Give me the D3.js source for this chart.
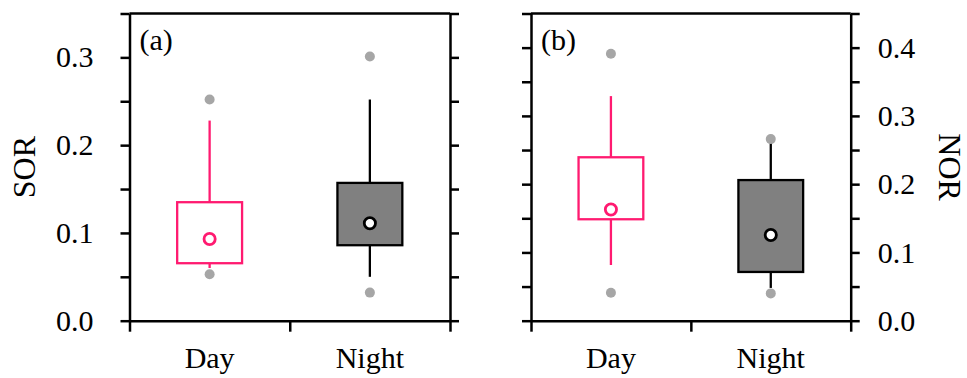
<!DOCTYPE html>
<html>
<head>
<meta charset="utf-8">
<script src="https://cdn.jsdelivr.net/npm/d3@7"></script>
<style>
  body { margin: 0; background: #fff; }
  text { font-family: "Liberation Serif", "Times New Roman", serif; fill: #000; }
</style>
</head>
<body>
<svg id="drawing_region"></svg>
<script>
// categories
var categories = ['Day', 'Night'];

// panel (a) SOR
var sorQ1 = [0.0655, 0.086];
var sorQ3 = [0.135, 0.157];
var sorLow = [0.060, 0.050];
var sorHigh = [0.228, 0.252];
var sorMean = [0.093, 0.111];
var sorOut = [[0.053, 0.252], [0.032, 0.301]];

// panel (b) NOR
var norQ1 = [0.1486, 0.0714];
var norQ3 = [0.2394, 0.206];
var norLow = [0.0816, 0.048];
var norHigh = [0.329, 0.262];
var norMean = [0.163, 0.1256];
var norOut = [[0.041, 0.391], [0.040, 0.266]];

var sorTicks = [0, 0.05, 0.1, 0.15, 0.2, 0.25, 0.3, 0.35];
var norTicks = [0, 0.05, 0.1, 0.15, 0.2, 0.25, 0.3, 0.35, 0.4, 0.45];

var pink = '#ff1a70';
var boxFill = ['#ffffff', '#808080'];
var boxStroke = [pink, '#000000'];

var svg = d3.select('#drawing_region')
    .attr('width', 967)
    .attr('height', 378);

var top_ = 13.5, bottom = 320.7;

function isMajor(d) {
    return Math.abs(d * 10 - Math.round(d * 10)) < 1e-6;
}

function panel(opt) {
    var g = svg.append('g');

    var xScale = d3.scaleBand()
        .domain(categories)
        .range([opt.left, opt.right])
        .paddingInner(0)
        .paddingOuter(0);

    var xEdge = d3.scaleLinear().domain([0, 2]).range([opt.left, opt.right]);

    var yScale = d3.scaleLinear()
        .domain([0, opt.ymax])
        .range([bottom, top_]);

    var fmt = d3.format('.1f');

    // left axis
    var la = g.append('g')
        .attr('transform', 'translate(' + opt.left + ',0)')
        .call(d3.axisLeft(yScale).tickValues(opt.ticks).tickSize(9).tickSizeOuter(0)
            .tickPadding(opt.labelLeft ? 27 : 3)
            .tickFormat(d => (opt.labelLeft && isMajor(d)) ? fmt(d) : ''));

    // right axis
    var ra = g.append('g')
        .attr('transform', 'translate(' + opt.right + ',0)')
        .call(d3.axisRight(yScale).tickValues(opt.ticks).tickSize(9).tickSizeOuter(0)
            .tickPadding(18)
            .tickFormat(d => (!opt.labelLeft && isMajor(d)) ? fmt(d) : ''));

    // bottom axis (boundary ticks)
    var ba = g.append('g')
        .attr('transform', 'translate(0,' + bottom + ')')
        .call(d3.axisBottom(xEdge).tickValues([0, 1, 2]).tickSize(11).tickSizeOuter(0)
            .tickFormat(''));

    // top border
    g.append('line')
        .attr('x1', opt.left).attr('x2', opt.right)
        .attr('y1', top_).attr('y2', top_)
        .attr('stroke', '#000').attr('stroke-width', 2.5);

    [la, ra, ba].forEach(function(a) {
        a.selectAll('path, line').attr('stroke', '#000').attr('stroke-width', 2.5);
        a.selectAll('text').style('font-size', '30px')
            .style('font-family', '"Liberation Serif", "Times New Roman", serif');
    });

    // category labels
    g.selectAll('.cat')
        .data(categories)
        .enter()
        .append('text')
        .attr('x', d => xScale(d) + xScale.bandwidth() / 2)
        .attr('y', 368)
        .attr('text-anchor', 'middle')
        .style('font-size', '30px')
        .text(d => d);

    var bw = xScale.bandwidth() * 0.405;
    var cx = d => xScale(d) + xScale.bandwidth() / 2;

    categories.forEach(function(c, i) {
        var x = cx(c);
        // whiskers
        g.append('line')
            .attr('x1', x).attr('x2', x)
            .attr('y1', yScale(opt.q3[i])).attr('y2', yScale(opt.high[i]))
            .attr('stroke', boxStroke[i]).attr('stroke-width', 2.3);
        g.append('line')
            .attr('x1', x).attr('x2', x)
            .attr('y1', yScale(opt.q1[i])).attr('y2', yScale(opt.low[i]))
            .attr('stroke', boxStroke[i]).attr('stroke-width', 2.3);
        // box
        g.append('rect')
            .attr('x', x - bw / 2)
            .attr('width', bw)
            .attr('y', yScale(opt.q3[i]))
            .attr('height', yScale(opt.q1[i]) - yScale(opt.q3[i]))
            .attr('fill', boxFill[i])
            .attr('stroke', boxStroke[i])
            .attr('stroke-width', 2.3);
        // mean
        g.append('circle')
            .attr('cx', x).attr('cy', yScale(opt.mean[i]))
            .attr('r', 5.6)
            .attr('fill', '#fff')
            .attr('stroke', boxStroke[i])
            .attr('stroke-width', 2.8);
        // outliers
        g.selectAll('.out' + i)
            .data(opt.out[i])
            .enter()
            .append('circle')
            .attr('cx', x)
            .attr('cy', d => yScale(d))
            .attr('r', 5)
            .attr('fill', '#a6a6a6');
    });

    // panel tag
    g.append('text')
        .attr('x', opt.left + 10)
        .attr('y', 50)
        .style('font-size', '30px')
        .text(opt.tag);

    // axis title
    g.append('text')
        .attr('transform', 'translate(' + opt.titleX + ',' + ((top_ + bottom) / 2) + ') rotate(' + opt.rot + ')')
        .attr('text-anchor', 'middle')
        .attr('dy', '0.35em')
        .style('font-size', '32px')
        .text(opt.title);
}

panel({
    left: 129.5, right: 450, ymax: 0.35, ticks: sorTicks, labelLeft: true,
    q1: sorQ1, q3: sorQ3, low: sorLow, high: sorHigh, mean: sorMean, out: sorOut,
    tag: '(a)', title: 'SOR', titleX: 24, rot: -90
});

panel({
    left: 531, right: 850.7, ymax: 0.45, ticks: norTicks, labelLeft: false,
    q1: norQ1, q3: norQ3, low: norLow, high: norHigh, mean: norMean, out: norOut,
    tag: '(b)', title: 'NOR', titleX: 950, rot: 90
});
</script>
</body>
</html>
